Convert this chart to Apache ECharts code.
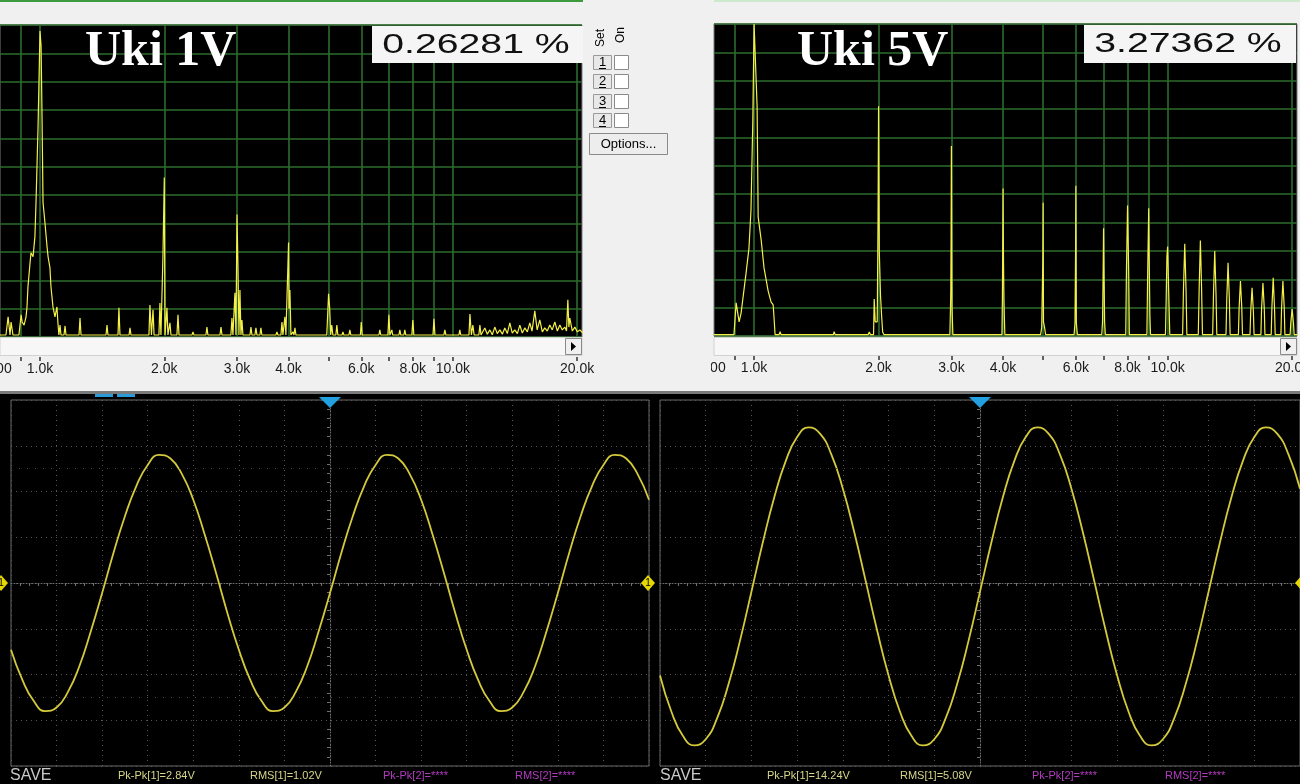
<!DOCTYPE html>
<html><head><meta charset="utf-8">
<script src="https://cdn.jsdelivr.net/npm/echarts@6/dist/echarts.min.js"></script>
<style>html,body{margin:0;padding:0;background:#f0f0f0;}#c{width:1300px;height:784px;}</style>
</head><body><div id="c"></div>
<script>
// ---------- DATA ----------
const title1V = 'Uki 1V', title5V = 'Uki 5V';
const thd1V = '0.26281 %', thd5V = '3.27362 %';
const freqMinHz = 800, freqMaxHz = 20550;
const freqGridHz = [900,1000,2000,3000,4000,5000,6000,7000,8000,9000,10000,20000];
const freqLabelHz = [800,1000,2000,3000,4000,6000,8000,10000,20000];
const levelMax = 110, levelStep = 10;

// spectrum traces: [frequency Hz, level (grid units, 10 per division)]
const spec1V = [[800,0.7],[827,0.7],[837,7.1],[846,0.7],[851,5.3],[860,0.7],[889,0.7],[900,7.8],[905,5.3],[915,4.2],[925,7.1],[930,10.6],[935,17.7],[946,26.2],[951,29.7],[962,28.3],[972,35.4],[978,47.4],[989,73.9],[1000,107.9],[1006,102.6],[1011,79.2],[1017,47.4],[1028,40.3],[1040,31.8],[1046,28.3],[1057,24.4],[1063,17.7],[1075,10.6],[1087,7.1],[1099,10.6],[1105,5.0],[1111,0.7],
[1118,4.2],[1124,0.7],[1143,0.7],[1150,3.9],[1156,0.7],[1243,0.7],[1250,6.7],[1257,0.7],[1344,0.7],[1351,1.4],[1359,0.7],[1445,0.7],[1453,4.2],[1461,0.7],[1545,0.7],[1553,10.3],[1562,0.7],[1643,0.7],[1652,3.2],[1661,0.7],[1836,0.7],[1846,11.3],[1862,0.7],[1878,9.6],[1889,0.7],[1941,0.7],[1952,12.0],[1963,0.7],[1974,0.7],[1985,28.3],[2000,56.2],[2008,0.7],[2019,0.7],[2030,10.3],[2041,0.7],[2053,0.7],[2064,5.0],[2076,0.7],[2146,0.7],[2159,7.8],[2171,0.7],[2334,0.7],[2347,1.8],[2360,0.7],[2523,0.7],[2537,3.5],[2551,0.7],[2728,0.7],[2744,3.5],[2759,0.7],[2900,0.7],[2917,6.7],[2933,0.7],[2950,0.7],[2966,15.6],[2983,0.7],[3000,43.2],[3017,24.4],[3033,0.7],[3050,16.6],[3067,0.7],[3084,6.0],[3101,0.7],[3225,0.7],[3243,3.5],[3261,0.7],[3316,0.7],[3334,3.2],[3353,0.7],[3409,0.7],[3428,3.2],[3447,0.7],[3727,0.7],[3749,1.8],[3770,0.7],[3833,0.7],[3855,5.3],[3876,0.7],[3898,0.7],[3919,7.1],[3941,0.7],[3963,0.7],[4000,33.3],[4010,10],[4030,16.6],[4053,0.7],[4075,0.7],[4099,1.8],[4122,0.7],[4145,3.2],[4168,0.7],
[4950,0.7],[5000,15.2],[5030,10.3],[5060,0.7],[5090,4.2],[5120,0.7],[5207,0.7],[5236,4.2],[5265,0.7],[5390,0.7],[5416,1.8],[5445,0.7],[5600,0.7],[5630,2.5],[5660,0.7],[5970,0.7],[6000,5.3],[6030,0.7],[6190,0.7],[6223,1.4],[6255,0.7],[6620,0.7],[6655,2.5],[6690,0.7],[6960,0.7],[7000,7.8],[7040,0.7],[7080,0.7],[7116,2.5],[7150,0.7],[7400,0.7],[7440,2.5],[7480,0.7],[7610,0.7],[7650,2.5],[7690,0.7],[7955,0.7],[8000,6.0],[8045,0.7],[8420,0.7],[8460,1.4],[8500,0.7],[8950,0.7],[9000,6.4],[9050,0.7],[9510,0.7],[9564,2.5],[9620,0.7],[10340,0.7],[10397,2.5],[10450,0.7],[10940,0.7],[11000,8.1],[11090,0.7],[11180,4.2],[11260,0.7],[11560,0.7],[11628,4.2],[11700,0.7],
[11952,3.2],[12120,1.0],[12292,2.5],[12460,0.8],[12637,3.5],[12810,1.2],[12995,2.5],[13180,1.0],[13362,3.2],[13550,1.2],[13740,5.0],[13930,1.4],[14128,2.5],[14330,1.2],[14527,4.2],[14730,1.4],[14938,3.2],[15150,1.8],[15360,5.0],[15550,2.1],[15794,9.2],[16000,2.5],[16240,6.0],[16470,1.8],[16700,3.2],[16930,2.1],[17170,4.2],[17410,2.5],[17660,5.3],[17910,2.1],[18160,4.2],[18410,2.5],[18670,3.5],[18850,2.1],[18990,13.1],[19100,3.5],[19200,6.7],[19470,2.1],[19745,3.5],[20020,1.8],[20300,2.5],[20650,1.4]];

const spec5V = [[800,0.5],[894,0.5],[905,11.7],[915,12],[920,5],[930,8],[956,22],[972,31],[983,44.5],[993,76],[1000,110],[1017,81],[1023,42],[1040,34],[1057,24],[1081,16],[1099,12],[1112,11],[1118,6],[1124,0.5],
[1150,0.5],[1156,1.5],[1162,0.5],[1555,0.5],[1562,1.5],[1570,0.5],
[1888,0.5],[1899,1.4],[1910,0.5],[1945,0.5],[1952,13],[1963,5],[1985,5],[1994,41],[2000,81],[2008,30],[2022,14],[2035,6.7],[2046,1.4],[2060,0.5],
[2975,0.5],[2985,10],[2990,16],[2995,35],[3000,67],[3010,10],[3025,0.5],
[3975,0.5],[3985,13],[3992,13],[4000,52],[4010,26],[4020,13],[4030,6],[4040,0.5],
[4930,0.5],[4960,3],[4990,26],[5000,47],[5010,5],[5040,3],[5070,0.5],
[5940,0.5],[5970,4.6],[5990,30],[6000,53],[6015,4.6],[6050,0.5],
[6930,0.5],[6960,5],[6985,24],[7000,38],[7015,24],[7040,5],[7070,0.5],
[7920,0.5],[7950,22.6],[8000,46],[8050,23],[8080,0.5],
[8910,0.5],[8950,23],[9000,45],[9020,30],[9060,7],[9090,0.5],
[9880,0.5],[9920,13],[9960,28],[10000,31.5],[10060,15.5],[10120,0.5],
[10870,0.5],[10920,16],[11000,32.5],[11080,16],[11130,0.5],
[11860,0.5],[11920,17],[12000,33.7],[12080,17],[12140,0.5],
[12850,0.5],[12910,15],[13000,30],[13090,15],[13150,0.5],
[13840,0.5],[13900,13],[14000,25.8],[14100,13],[14160,0.5],
[14830,0.5],[14890,10],[15000,19.4],[15110,10],[15170,0.5],
[15820,0.5],[15880,8.5],[16000,17],[16120,8.5],[16180,0.5],
[16810,0.5],[16870,9.5],[17000,18.7],[17130,9.5],[17190,0.5],
[17800,0.5],[17870,10],[18000,20.5],[18130,10],[18200,0.5],
[18790,0.5],[18860,10],[19000,19.4],[19140,10],[19210,0.5],
[19780,0.5],[19850,4.6],[20000,9.5],[20150,4.6],[20220,0.5],[20600,0.5]];

// oscilloscope traces: time (µs) vs volts, one sample every quarter division
const scopeTimeMinUs = -1400, scopeTimeMaxUs = 1400, scopeTimeDivUs = 200, scopeSampleUs = 50;
const scope1V_volts = [-0.73,-1.06,-1.29,-1.40,-1.36,-1.19,-0.91,-0.53,-0.11,0.33,0.73,1.06,1.29,1.40,1.36,1.19,0.91,0.53,0.11,-0.33,
 -0.73,-1.06,-1.29,-1.40,-1.36,-1.19,-0.91,-0.53,-0.11,0.33,0.73,1.06,1.29,1.40,1.36,1.19,0.91,0.53,0.11,-0.33,
 -0.73,-1.06,-1.29,-1.40,-1.36,-1.19,-0.91,-0.53,-0.11,0.33,0.73,1.06,1.29,1.40,1.36,1.19,0.91];
const scope5V_volts = [-4.04,-5.63,-6.68,-7.10,-6.83,-5.91,-4.42,-2.52,-0.38,1.78,3.75,5.33,6.38,6.80,6.53,5.61,4.12,2.22,0.08,-2.08,
 -4.04,-5.63,-6.68,-7.10,-6.83,-5.91,-4.42,-2.52,-0.38,1.78,3.75,5.33,6.38,6.80,6.53,5.61,4.12,2.22,0.08,-2.08,
 -4.04,-5.63,-6.68,-7.10,-6.83,-5.91,-4.42,-2.52,-0.38,1.78,3.75,5.33,6.38,6.80,6.53,5.61,4.12];
const scope1V_voltsPerDiv = 0.5, scope5V_voltsPerDiv = 2;
const scope1V_cursorV = [1.25, -1.25];
const scope5V_cursorV = [5, -5];
const meas1V = ['Pk-Pk[1]=2.84V','RMS[1]=1.02V','Pk-Pk[2]=****','RMS[2]=****'];
const meas5V = ['Pk-Pk[1]=14.24V','RMS[1]=5.08V','Pk-Pk[2]=****','RMS[2]=****'];

// ---------- BUILD ----------
const lg = v => Math.log10(v);
const GREEN = '#2c6c2c';
const SANS = '"Liberation Sans", Arial, sans-serif';
function fmtHz(v){ const f = Math.round(Math.pow(10, v)); return f >= 1000 ? (f/1000).toFixed(1)+'k' : String(f); }
const scopeTimeUs = [];
for (let t = scopeTimeMinUs; t <= scopeTimeMaxUs; t += scopeSampleUs) scopeTimeUs.push(t);

function specXAxes(gi){
  return [
    { type:'value', gridIndex:gi, position:'top', min:lg(freqMinHz), max:lg(freqMaxHz),
      axisLine:{show:false}, axisLabel:{show:false},
      axisTick:{show:false, customValues:freqGridHz.map(lg)},
      splitLine:{show:true, lineStyle:{color:GREEN, width:1.6}} },
    { type:'value', gridIndex:gi, position:'bottom', offset:20, min:lg(freqMinHz), max:lg(freqMaxHz),
      axisLine:{show:false},
      axisTick:{show:true, inside:false, length:4, customValues:freqGridHz.map(lg), lineStyle:{color:'#333', width:1.5}},
      axisLabel:{show:true, customValues:freqLabelHz.map(lg), formatter:fmtHz, margin:5, fontSize:14, color:'#1a1a1a', fontFamily:SANS},
      splitLine:{show:false} }
  ];
}
function specYAxis(gi){
  return { type:'value', gridIndex:gi, min:0, max:levelMax, interval:levelStep,
    axisLine:{show:false}, axisTick:{show:false}, axisLabel:{show:false},
    splitLine:{show:true, lineStyle:{color:GREEN, width:1.6}} };
}
function scopeXAxis(gi){
  return { type:'value', gridIndex:gi, min:scopeTimeMinUs, max:scopeTimeMaxUs, interval:scopeTimeDivUs,
    axisLine:{show:true, onZero:true, lineStyle:{color:'#6e6e6e', type:[1,2]}},
    axisTick:{show:false}, axisLabel:{show:false},
    minorTick:{show:true, splitNumber:5, length:3, lineStyle:{color:'#707070'}},
    splitLine:{show:true, lineStyle:{color:'#565656', type:[1,4]}} };
}
function scopeYAxis(gi, vdiv){
  return { type:'value', gridIndex:gi, min:-4*vdiv, max:4*vdiv, interval:vdiv,
    axisLine:{show:true, onZero:true, lineStyle:{color:'#6e6e6e', type:[1,2]}},
    axisTick:{show:false}, axisLabel:{show:false},
    minorTick:{show:true, splitNumber:5, length:3, lineStyle:{color:'#707070'}},
    splitLine:{show:true, lineStyle:{color:'#565656', type:[1,4]}} };
}
function specSeries(xi, yi, data){
  return { type:'line', xAxisIndex:xi, yAxisIndex:yi, data:data.map(p => [lg(p[0]), p[1]]),
    symbol:'none', showSymbol:false, silent:true, animation:false,
    lineStyle:{color:'#f4f048', width:1.2} };
}
function scopeSeries(xi, yi, volts, cursors){
  return { type:'line', xAxisIndex:xi, yAxisIndex:yi, data:scopeTimeUs.map((t,i) => [t, volts[i]]),
    smooth:true, symbol:'none', showSymbol:false, silent:true, animation:false,
    lineStyle:{color:'#d4ca3c', width:1.8},
    markLine:{silent:true, symbol:'none', label:{show:false}, animation:false,
      lineStyle:{color:'#4e4e4e', type:[1,7], width:1},
      data:cursors.map(v => ({yAxis:v}))} };
}

const g = [];
// backgrounds
g.push({type:'rect', z:-100, shape:{x:0,y:394,width:1300,height:390}, style:{fill:'#000'}});
g.push({type:'rect', z:-50, shape:{x:0,y:0,width:583,height:2}, style:{fill:'#3d9a3d'}});
g.push({type:'rect', z:-50, shape:{x:714,y:0,width:586,height:2}, style:{fill:'#cdeacd'}});
g.push({type:'rect', z:-50, shape:{x:0,y:391,width:1300,height:3}, style:{fill:'#7a7a7a'}});
// scroll bars
[[0,582,565],[714,583,1280]].forEach(([x0,w,bx]) => {
  g.push({type:'rect', z:5, shape:{x:x0,y:337.5,width:w,height:18}, style:{fill:'#f7f7f7', stroke:'#d2d2d2', lineWidth:1}});
  g.push({type:'rect', z:6, shape:{x:bx+0.5,y:338.5,width:16,height:16}, style:{fill:'#f0f0f0', stroke:'#8a8a8a', lineWidth:1}});
  g.push({type:'polygon', z:7, shape:{points:[[bx+6,342],[bx+6,351],[bx+11,346.5]]}, style:{fill:'#000'}});
});
// mask that clips the first tick label of the right panel at the panel edge
g.push({type:'rect', z:50, shape:{x:640,y:356,width:71,height:34}, style:{fill:'#f0f0f0'}});
// titles and THD boxes
g.push({type:'text', z:20, x:85, y:52, style:{text:title1V, font:'bold 50px "Liberation Serif", serif', fill:'#fff', align:'left', verticalAlign:'middle'}});
g.push({type:'text', z:20, x:797, y:52, style:{text:title5V, font:'bold 50px "Liberation Serif", serif', fill:'#fff', align:'left', verticalAlign:'middle'}});
g.push({type:'rect', z:10, shape:{x:372,y:26,width:211,height:37}, style:{fill:'#f5f5f5'}});
g.push({type:'rect', z:10, shape:{x:1084,y:25,width:212,height:38}, style:{fill:'#f5f5f5'}});
g.push({type:'text', z:20, x:476, y:45, scaleX:1.4, style:{text:thd1V, font:'28px '+SANS, fill:'#111', align:'center', verticalAlign:'middle'}});
g.push({type:'text', z:20, x:1188, y:44.5, scaleX:1.4, style:{text:thd5V, font:'28px '+SANS, fill:'#111', align:'center', verticalAlign:'middle'}});
// middle controls
g.push({type:'text', z:20, x:601, y:38, rotation:Math.PI/2, style:{text:'Set', font:'12px '+SANS, fill:'#000', align:'center', verticalAlign:'middle'}});
g.push({type:'text', z:20, x:621, y:35, rotation:Math.PI/2, style:{text:'On', font:'12px '+SANS, fill:'#000', align:'center', verticalAlign:'middle'}});
['1','2','3','4'].forEach((d,i) => {
  const y = [55,74,94,113][i];
  g.push({type:'rect', z:10, shape:{x:593.5,y:y+0.5,width:18,height:14}, style:{fill:'#e8e8e8', stroke:'#9a9a9a', lineWidth:1}});
  g.push({type:'text', z:20, x:602.5, y:y+7.5, style:{text:d, font:'13px '+SANS, fill:'#000', align:'center', verticalAlign:'middle'}});
  g.push({type:'rect', z:20, shape:{x:599,y:y+13,width:7,height:1}, style:{fill:'#000'}});
  g.push({type:'rect', z:10, shape:{x:614.5,y:y+0.5,width:14,height:14}, style:{fill:'#fff', stroke:'#8a8a8a', lineWidth:1}});
});
g.push({type:'rect', z:10, shape:{x:589.5,y:133.5,width:78,height:21}, style:{fill:'#ededed', stroke:'#8a8a8a', lineWidth:1}});
g.push({type:'text', z:20, x:628.5, y:144.5, style:{text:'Options...', font:'13px '+SANS, fill:'#000', align:'center', verticalAlign:'middle'}});
// scope decorations
g.push({type:'polygon', z:30, shape:{points:[[319,397],[341,397],[330,408]]}, style:{fill:'#22a0e0'}});
g.push({type:'polygon', z:30, shape:{points:[[969,397],[991,397],[980,408]]}, style:{fill:'#22a0e0'}});
g.push({type:'rect', z:30, shape:{x:95,y:394,width:18,height:3}, style:{fill:'#2a9ad8'}});
g.push({type:'rect', z:30, shape:{x:117,y:394,width:18,height:3}, style:{fill:'#2a9ad8'}});
[1, 648, 1302].forEach(cx => {
  g.push({type:'polygon', z:30, shape:{points:[[cx-7,583],[cx,575],[cx+7,583],[cx,591]]}, style:{fill:'#e6d800'}});
  g.push({type:'text', z:31, x:cx, y:583, style:{text:'1', font:'10px '+SANS, fill:'#000', align:'center', verticalAlign:'middle'}});
});
function scopeTexts(x0, meas, xs){
  g.push({type:'text', z:30, x:x0, y:776, style:{text:'SAVE', font:'16px '+SANS, fill:'#c8c8c8', align:'left', verticalAlign:'middle'}});
  meas.forEach((m,i) => g.push({type:'text', z:30, x:xs[i], y:776, style:{text:m, font:'11px '+SANS, fill: i<2 ? '#d6d68a' : '#b23cc0', align:'left', verticalAlign:'middle'}}));
}
scopeTexts(10, meas1V, [118,250,383,515]);
scopeTexts(660, meas5V, [767,900,1032,1165]);

const option = {
  backgroundColor:'#f0f0f0',
  animation:false,
  grid:[
    {left:0, top:25, width:582, height:312, show:true, backgroundColor:'#000', borderColor:'#7a7a7a', borderWidth:1, outerBoundsMode:'none', containLabel:false},
    {left:714, top:24, width:583, height:312, show:true, backgroundColor:'#000', borderColor:'#7a7a7a', borderWidth:1, outerBoundsMode:'none', containLabel:false},
    {left:11, top:400, width:638, height:366, show:true, backgroundColor:'#000', borderColor:'#6a6a6a', borderWidth:1, outerBoundsMode:'none', containLabel:false},
    {left:660, top:400, width:640, height:366, show:true, backgroundColor:'#000', borderColor:'#6a6a6a', borderWidth:1, outerBoundsMode:'none', containLabel:false}
  ],
  xAxis:[...specXAxes(0), ...specXAxes(1), scopeXAxis(2), scopeXAxis(3)],
  yAxis:[specYAxis(0), specYAxis(1), scopeYAxis(2, scope1V_voltsPerDiv), scopeYAxis(3, scope5V_voltsPerDiv)],
  series:[
    specSeries(0, 0, spec1V),
    specSeries(2, 1, spec5V),
    scopeSeries(4, 2, scope1V_volts, scope1V_cursorV),
    scopeSeries(5, 3, scope5V_volts, scope5V_cursorV)
  ],
  graphic:{elements:g}
};
const chart = echarts.init(document.getElementById('c'), null, {renderer:'canvas'});
chart.setOption(option);
</script></body></html>
